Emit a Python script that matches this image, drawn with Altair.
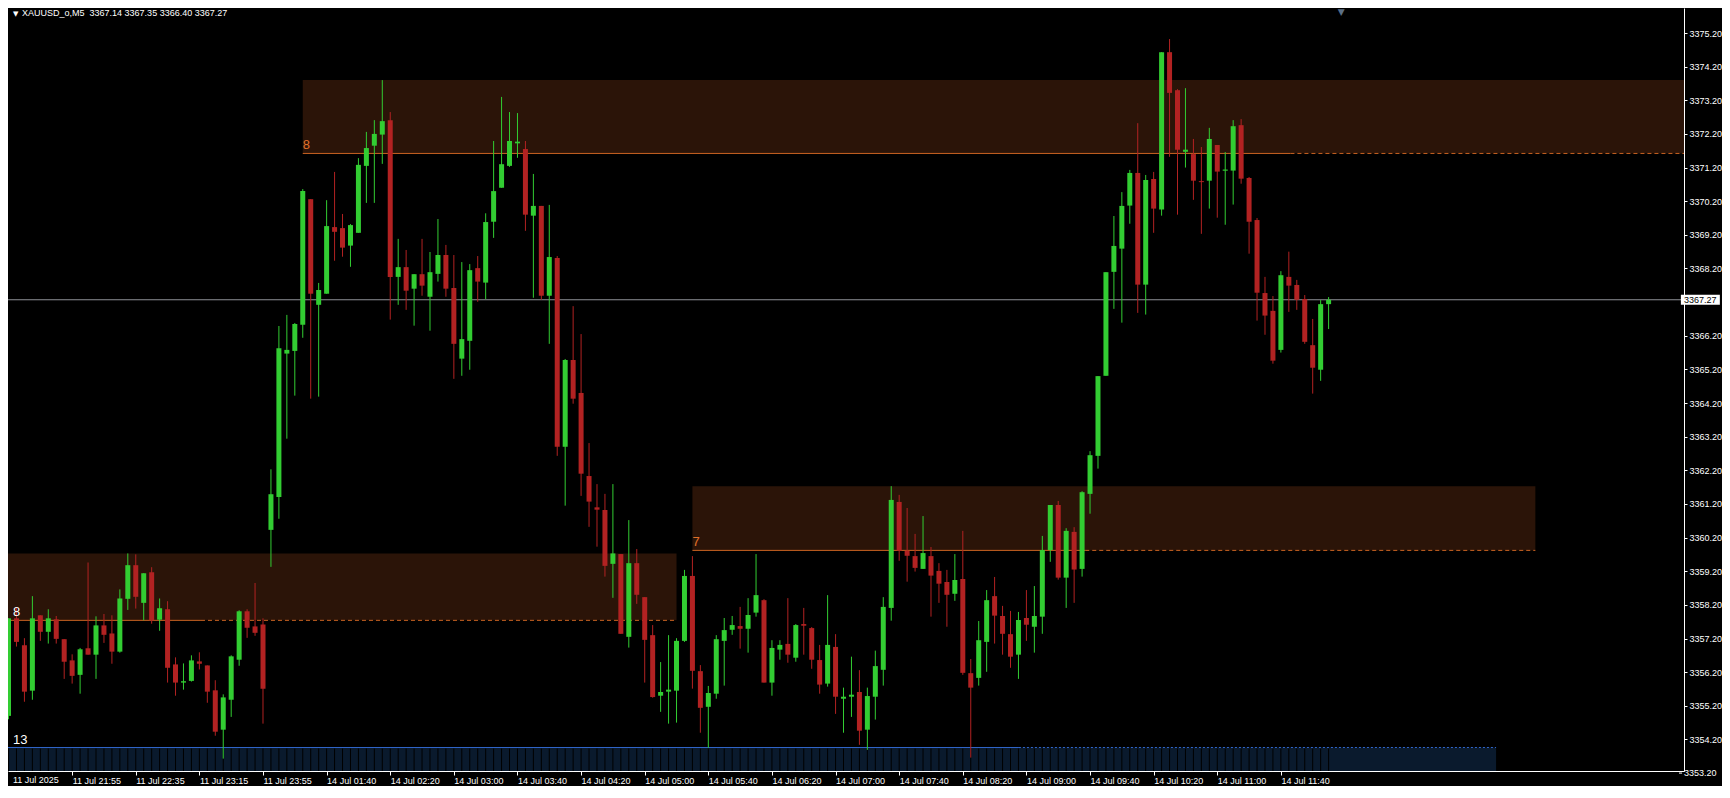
import altair as alt
import pandas as pd

# ---------------- candle data (M5 bars, index 0 = 11 Jul 21:15) ----------------
OPEN = [
    3354.90, 3357.80, 3357.00, 3355.65, 3357.89, 3357.40, 3357.77, 3357.18, 3356.55, 3356.12,
    3356.91, 3356.72, 3357.59, 3357.35, 3356.81, 3358.38, 3359.38, 3358.26, 3359.17, 3357.76,
    3358.07, 3356.43, 3355.89, 3355.94, 3356.52, 3356.40, 3355.66, 3354.49, 3355.38, 3356.57,
    3358.01, 3357.56, 3357.62, 3360.43, 3361.41, 3365.67, 3365.75, 3366.53, 3370.26, 3367.12,
    3367.45, 3369.43, 3369.40, 3368.88, 3369.26, 3371.25, 3371.85, 3372.18, 3372.61, 3367.95,
    3368.24, 3367.60, 3368.03, 3367.36, 3368.04, 3368.60, 3367.62, 3365.52, 3366.05, 3368.21,
    3367.78, 3369.59, 3370.60, 3371.25, 3371.92, 3371.75, 3369.77, 3370.06, 3367.39, 3368.51,
    3362.90, 3365.48, 3364.50, 3362.03, 3361.10, 3361.02, 3359.42, 3359.71, 3357.25, 3359.44,
    3358.43, 3357.30, 3355.50, 3355.62, 3355.65, 3357.13, 3359.06, 3356.23, 3355.17, 3355.56,
    3357.13, 3357.46, 3357.57, 3357.49, 3357.97, 3358.34, 3355.89, 3356.87, 3357.04, 3356.63,
    3357.63, 3357.51, 3356.56, 3355.86, 3356.95, 3355.41, 3355.47, 3355.61, 3354.49, 3355.47,
    3356.27, 3358.11, 3361.26, 3359.81, 3359.65, 3359.27, 3359.65, 3359.21, 3358.88, 3358.53,
    3358.97, 3356.17, 3356.03, 3357.10, 3358.46, 3357.87, 3357.33, 3356.72, 3357.81, 3357.55,
    3357.85, 3359.83, 3361.17, 3359.01, 3360.37, 3359.27, 3361.50, 3362.63, 3365.01, 3368.10,
    3368.79, 3370.07, 3371.04, 3367.72, 3370.86, 3369.95, 3374.63, 3373.50, 3371.67, 3371.60,
    3370.80, 3370.81, 3371.87, 3371.11, 3371.11, 3372.46, 3370.89, 3369.64, 3367.47, 3366.94,
    3365.78, 3367.95, 3367.71, 3367.29, 3365.92, 3365.19, 3367.14,
]
HIGH = [
    3357.80, 3358.13, 3357.21, 3358.46, 3357.89, 3358.07, 3357.87, 3357.18, 3356.73, 3356.92,
    3359.46, 3357.86, 3357.93, 3357.89, 3358.66, 3359.73, 3359.70, 3359.14, 3359.32, 3358.39,
    3358.31, 3356.64, 3356.46, 3356.70, 3356.79, 3356.40, 3355.96, 3355.54, 3356.70, 3358.04,
    3358.07, 3358.85, 3357.80, 3362.23, 3366.49, 3366.82, 3366.58, 3370.56, 3370.26, 3367.77,
    3370.23, 3371.07, 3369.82, 3369.52, 3371.48, 3372.26, 3372.61, 3373.80, 3372.85, 3369.08,
    3368.75, 3368.03, 3369.08, 3368.69, 3369.67, 3368.90, 3368.60, 3368.39, 3368.33, 3368.57,
    3369.84, 3371.99, 3373.30, 3372.85, 3372.82, 3371.99, 3371.01, 3370.06, 3370.09, 3368.57,
    3365.51, 3367.08, 3366.25, 3363.01, 3361.79, 3361.50, 3361.79, 3359.71, 3360.72, 3359.86,
    3358.43, 3357.60, 3356.50, 3357.30, 3357.21, 3359.24, 3359.65, 3356.41, 3355.79, 3357.30,
    3357.81, 3357.87, 3358.14, 3358.40, 3359.71, 3358.37, 3357.15, 3357.15, 3358.40, 3357.63,
    3358.11, 3357.54, 3357.01, 3358.49, 3357.33, 3355.74, 3356.66, 3356.26, 3355.74, 3356.84,
    3358.43, 3361.73, 3361.47, 3361.08, 3360.31, 3360.84, 3359.92, 3359.44, 3359.24, 3359.71,
    3360.40, 3356.59, 3357.72, 3358.64, 3359.03, 3358.17, 3358.02, 3357.99, 3358.64, 3358.76,
    3360.25, 3361.17, 3361.29, 3360.48, 3360.51, 3361.58, 3362.77, 3365.00, 3368.09, 3369.76,
    3370.47, 3371.13, 3372.52, 3370.98, 3371.07, 3374.63, 3375.02, 3373.53, 3373.56, 3372.05,
    3371.81, 3372.38, 3371.87, 3371.66, 3372.61, 3372.64, 3370.92, 3369.70, 3367.95, 3367.38,
    3368.12, 3368.70, 3367.86, 3367.41, 3366.70, 3367.26, 3367.35,
]
LOW = [
    3354.80, 3356.96, 3355.32, 3355.38, 3357.13, 3357.05, 3357.05, 3356.00, 3355.86, 3355.56,
    3356.72, 3356.00, 3357.07, 3356.45, 3356.78, 3358.05, 3358.09, 3357.74, 3357.64, 3357.43,
    3355.89, 3355.50, 3355.68, 3355.92, 3356.28, 3355.29, 3354.31, 3353.63, 3354.87, 3356.39,
    3357.22, 3357.28, 3354.67, 3359.33, 3360.76, 3363.14, 3364.42, 3366.14, 3364.33, 3364.39,
    3367.45, 3368.43, 3368.55, 3368.25, 3369.26, 3370.15, 3370.15, 3371.31, 3366.68, 3367.12,
    3366.97, 3366.50, 3367.39, 3366.35, 3367.81, 3367.36, 3364.92, 3365.01, 3365.19, 3367.21,
    3367.29, 3369.11, 3370.60, 3371.22, 3371.49, 3369.32, 3367.33, 3367.27, 3365.96, 3362.63,
    3361.15, 3364.18, 3361.44, 3360.52, 3359.93, 3359.04, 3358.41, 3357.34, 3356.93, 3358.23,
    3355.89, 3355.44, 3355.02, 3354.67, 3354.70, 3357.10, 3355.71, 3354.40, 3353.95, 3355.41,
    3355.80, 3357.31, 3356.90, 3356.78, 3357.85, 3355.89, 3355.50, 3356.57, 3356.48, 3356.51,
    3356.72, 3356.30, 3355.56, 3355.77, 3354.96, 3354.40, 3354.87, 3354.04, 3353.89, 3354.79,
    3355.80, 3357.73, 3359.51, 3358.89, 3359.19, 3359.27, 3357.85, 3358.26, 3357.55, 3358.32,
    3356.12, 3353.66, 3355.80, 3356.21, 3357.05, 3356.72, 3356.33, 3356.00, 3357.13, 3356.78,
    3357.34, 3359.48, 3358.95, 3358.11, 3358.26, 3359.04, 3360.91, 3362.25, 3365.01, 3367.00,
    3366.59, 3369.53, 3366.88, 3366.83, 3369.26, 3369.77, 3371.52, 3369.80, 3371.20, 3370.24,
    3369.23, 3369.98, 3369.71, 3369.50, 3370.10, 3370.72, 3368.64, 3366.65, 3366.23, 3365.37,
    3365.70, 3366.91, 3366.97, 3365.96, 3364.48, 3364.86, 3366.40,
]
CLOSE = [
    3357.80, 3357.10, 3355.62, 3357.80, 3357.40, 3357.80, 3357.19, 3356.51, 3356.09, 3356.88,
    3356.72, 3357.59, 3357.31, 3356.81, 3358.39, 3359.38, 3358.44, 3359.14, 3357.74, 3358.10,
    3356.33, 3355.89, 3355.92, 3356.55, 3356.45, 3355.62, 3354.43, 3355.45, 3356.67, 3358.01,
    3357.52, 3357.37, 3355.71, 3361.49, 3365.83, 3365.78, 3366.55, 3370.50, 3367.45, 3367.56,
    3369.46, 3369.29, 3368.82, 3369.49, 3371.28, 3371.78, 3372.20, 3372.58, 3367.95, 3368.24,
    3367.54, 3368.03, 3367.69, 3368.09, 3368.60, 3367.60, 3365.96, 3366.10, 3368.15, 3367.81,
    3369.58, 3370.50, 3371.30, 3371.99, 3371.96, 3369.80, 3370.06, 3367.39, 3368.54, 3362.90,
    3365.48, 3364.33, 3362.10, 3361.27, 3361.03, 3359.36, 3359.73, 3357.34, 3359.44, 3358.50,
    3357.16, 3355.46, 3355.61, 3355.68, 3357.13, 3359.06, 3356.24, 3355.14, 3355.58, 3357.18,
    3357.45, 3357.60, 3357.49, 3357.90, 3358.49, 3355.89, 3356.92, 3357.01, 3356.72, 3357.60,
    3357.58, 3356.57, 3355.83, 3357.01, 3355.47, 3355.47, 3355.53, 3354.46, 3355.49, 3356.38,
    3358.14, 3361.32, 3359.81, 3359.66, 3359.30, 3359.74, 3359.07, 3358.83, 3358.50, 3358.94,
    3356.18, 3355.74, 3357.15, 3358.34, 3357.88, 3357.34, 3356.66, 3357.75, 3357.61, 3357.87,
    3359.83, 3361.17, 3359.01, 3360.40, 3359.25, 3361.55, 3362.65, 3365.00, 3368.09, 3368.87,
    3370.06, 3371.04, 3367.72, 3370.83, 3369.98, 3374.63, 3373.42, 3371.73, 3371.72, 3370.81,
    3370.78, 3372.05, 3371.08, 3371.13, 3372.43, 3370.87, 3369.59, 3367.48, 3366.80, 3365.46,
    3368.00, 3367.69, 3367.27, 3366.02, 3365.25, 3367.14, 3367.27,
]

# ---------------- axes ----------------
TIME_TICKS = [0, 8, 16, 24, 32, 40, 48, 56, 64, 72, 80, 88, 96, 104, 112, 120, 128, 136, 144, 152, 160]
TIME_LABELS = [
    "11 Jul 2025", "11 Jul 21:55", "11 Jul 22:35", "11 Jul 23:15", "11 Jul 23:55",
    "14 Jul 01:40", "14 Jul 02:20", "14 Jul 03:00", "14 Jul 03:40", "14 Jul 04:20",
    "14 Jul 05:00", "14 Jul 05:40", "14 Jul 06:20", "14 Jul 07:00", "14 Jul 07:40",
    "14 Jul 08:20", "14 Jul 09:00", "14 Jul 09:40", "14 Jul 10:20", "14 Jul 11:00",
    "14 Jul 11:40",
]
# 3367.20 is hidden behind the current-price box in the reference
PRICE_TICKS = [
    3354.2, 3355.2, 3356.2, 3357.2, 3358.2, 3359.2, 3360.2, 3361.2, 3362.2, 3363.2, 3364.2,
    3365.2, 3366.2, 3368.2, 3369.2, 3370.2, 3371.2, 3372.2, 3373.2, 3374.2, 3375.2,
]
LOW_TICK = 3353.2  # lowest scale label, sits below the visible price range

LAST_PRICE = 3367.27
HEADER = "XAUUSD_o,M5\u00a0\u00a03367.14 3367.35 3366.40 3367.27"

# ---------------- supply / demand zones ----------------
ZONE_START = [-1.0, 37.0, 86.0]
ZONE_END = [84.0, 211.0, 192.0]
ZONE_TOP = [3359.73, 3373.80, 3361.73]
ZONE_BOTTOM = [3357.74, 3371.62, 3359.82]
ZONE_SOLID_END = [24.2, 161.2, 135.4]
ZONE_LABEL = ["8", "8", "7"]
ZONE_LABEL_COLOR = ["#ffffff", "#e0702a", "#e0702a"]

# ---------------- bottom indicator strip ----------------
VOL_LABEL = "13"
VOL_START, VOL_SOLID_END, VOL_END = -1.0, 127.06, 187.06
VOL_TOP = 3353.96

# visible ranges (bar index / price)
X0, X1 = 0.5625, 210.0625
Y0, Y1 = 3353.2618, 3375.9432
HEADER_X = 1.7
MARKER_X = 167.6
BOX_X0, BOX_X1, BOX_TEXT_X = 210.3, 215.2, 210.7
TICK_X1 = 210.45

W, H = 1676, 763
FONT = "Liberation Sans"
GREEN, RED = "#32cd32", "#b22222"
ORANGE = "#cc6422"
ZONE_FILL = "#2b1408"

df = pd.DataFrame({"i": list(range(len(OPEN))), "o": OPEN, "h": HIGH, "l": LOW, "c": CLOSE})
df["dir"] = ["up" if c > o else "down" for o, c in zip(OPEN, CLOSE)]
df["vb"] = Y0
df["vt"] = VOL_TOP - 0.03

zones = pd.DataFrame({
    "s": ZONE_START, "e": ZONE_END, "t": ZONE_TOP, "b": ZONE_BOTTOM,
    "se": ZONE_SOLID_END, "lab": ZONE_LABEL, "lc": ZONE_LABEL_COLOR,
})
zones["lx"] = [max(s, X0) for s in ZONE_START]

xs = alt.Scale(domain=[X0, X1], nice=False, zero=False)
ys = alt.Scale(domain=[Y0, Y1], nice=False, zero=False)

label_expr = "[" + ",".join("'%s'" % s for s in TIME_LABELS) + "][round(datum.value / 8)]"
xaxis = alt.Axis(values=TIME_TICKS[1:], labelExpr=label_expr, title=None, grid=False,
                 domainColor="#ffffff", tickColor="#ffffff", tickSize=4, labelColor="#ffffff",
                 labelFont=FONT, labelFontSize=9, labelAlign="left", labelBaseline="top",
                 labelPadding=1, labelOverlap=False, labelFlush=False, labelBound=False)
yaxis = alt.Axis(orient="right", values=PRICE_TICKS, format=".2f", title=None, grid=False,
                 domainColor="#ffffff", tickColor="#ffffff", tickSize=3, labelColor="#ffffff",
                 labelFont=FONT, labelFontSize=9, labelPadding=2, labelOverlap=False,
                 labelFlush=False, labelBound=False)


def X(f):
    return alt.X(f, type="quantitative", scale=xs, axis=xaxis)


def Y(f):
    return alt.Y(f, type="quantitative", scale=ys, axis=yaxis)


col = alt.Color("dir:N", scale=alt.Scale(domain=["up", "down"], range=[GREEN, RED]), legend=None)

zone_rect = alt.Chart(zones).mark_rect(color=ZONE_FILL, clip=True).encode(
    x=X("s"), x2="e", y=Y("t"), y2="b")
zone_solid = alt.Chart(zones).mark_rule(color=ORANGE, strokeWidth=1, clip=True).encode(
    x=X("s"), x2="se", y=Y("b"))
zone_dash = alt.Chart(zones).mark_rule(color=ORANGE, strokeWidth=1, strokeDash=[4, 3], clip=True).encode(
    x=X("se"), x2="e", y=Y("b"))
zone_text = alt.Chart(zones).mark_text(align="left", baseline="alphabetic", dy=-4, font=FONT,
                                       fontSize=13).encode(
    x=X("lx"), y=Y("b"), text="lab:N", color=alt.Color("lc:N", scale=None))

vol = pd.DataFrame({"s": [VOL_START], "e": [VOL_END], "se": [VOL_SOLID_END], "t": [VOL_TOP], "b": [Y0],
                    "lx": [X0], "lab": [VOL_LABEL]})
vol_rect = alt.Chart(vol).mark_rect(color="#0a1a2d", clip=True).encode(x=X("s"), x2="e", y=Y("t"), y2="b")
vol_sep = alt.Chart(df).mark_rule(color="#000000", strokeWidth=1, clip=True).encode(
    x=X("i"), y=Y("vb"), y2="vt")
vol_line = alt.Chart(vol).mark_rule(color="#2f64c8", strokeWidth=1, clip=True).encode(
    x=X("s"), x2="se", y=Y("t"))
vol_dash = alt.Chart(vol).mark_rule(color="#2f64c8", strokeWidth=1, strokeDash=[2, 2], clip=True).encode(
    x=X("se"), x2="e", y=Y("t"))
vol_text = alt.Chart(vol).mark_text(align="left", baseline="alphabetic", dy=-4, font=FONT, fontSize=13,
                                    color="#ffffff").encode(x=X("lx"), y=Y("t"), text="lab:N")

last = pd.DataFrame({"p": [LAST_PRICE], "x0": [BOX_X0], "x1": [BOX_X1], "tx": [BOX_TEXT_X],
                     "p0": [LAST_PRICE - 0.15], "p1": [LAST_PRICE + 0.15],
                     "lab": ["%.2f" % LAST_PRICE]})
price_line = alt.Chart(last).mark_rule(color="#8e9196", strokeWidth=1).encode(y=Y("p"))
price_box = alt.Chart(last).mark_rect(color="#ffffff").encode(x=X("x0"), x2="x1", y=Y("p0"), y2="p1")
price_txt = alt.Chart(last).mark_text(align="left", baseline="middle", font=FONT, fontSize=9,
                                      color="#000000").encode(x=X("tx"), y=Y("p"), text="lab:N")

low = pd.DataFrame({"p": [LOW_TICK], "x0": [X1], "x1": [TICK_X1], "tx": [BOX_TEXT_X],
                    "lab": ["%.2f" % LOW_TICK]})
low_tick = alt.Chart(low).mark_rule(color="#ffffff", strokeWidth=1).encode(x=X("x0"), x2="x1", y=Y("p"))
low_txt = alt.Chart(low).mark_text(align="left", baseline="middle", font=FONT, fontSize=9,
                                   color="#ffffff").encode(x=X("tx"), y=Y("p"), text="lab:N")

wicks = alt.Chart(df).mark_rule(strokeWidth=1, clip=True).encode(x=X("i"), y=Y("l"), y2="h", color=col)
bodies = alt.Chart(df).mark_bar(size=5, clip=True).encode(x=X("i"), y=Y("o"), y2="c", color=col)
doji = alt.Chart(df).transform_filter("abs(datum.c - datum.o) < 0.05").mark_tick(
    orient="horizontal", size=5, thickness=1, clip=True).encode(x=X("i"), y=Y("c"), color=col)

head = pd.DataFrame({"x": [HEADER_X], "tx": [X0], "mx": [MARKER_X], "y": [Y1], "yb": [Y0],
                     "lab": [HEADER], "first": [TIME_LABELS[0]]})
header = alt.Chart(head).mark_text(align="left", baseline="top", dy=1, font=FONT, fontSize=9,
                                   color="#ffffff").encode(x=X("x"), y=Y("y"), text="lab:N")
header_tri = alt.Chart(head).mark_text(align="left", baseline="top", dy=2, font="DejaVu Sans", fontSize=7,
                                       color="#ffffff", text="\u25bc").encode(x=X("tx"), y=Y("y"))
marker = alt.Chart(head).mark_text(align="center", baseline="top", dy=0, font="DejaVu Sans", fontSize=9,
                                   color="#5b6f86", text="\u25bc").encode(x=X("mx"), y=Y("y"))
first_lab = alt.Chart(head).mark_text(align="left", baseline="top", dy=5, font=FONT, fontSize=9,
                                      color="#ffffff").encode(x=X("tx"), y=Y("yb"), text="first:N")

chart = alt.layer(
    zone_rect, vol_rect, vol_sep, vol_line, vol_dash, price_line, zone_solid, zone_dash,
    wicks, bodies, doji, zone_text, vol_text, header, header_tri, marker, first_lab,
    price_box, price_txt, low_tick, low_txt,
).properties(
    width=W, height=H, background="#000000",
    padding={"left": 0, "top": 0, "right": 38, "bottom": 15},
    autosize=alt.AutoSizeParams(type="none"),
).configure_view(stroke=None)

chart.save("out.html", embed_options={"renderer": "svg", "actions": False})
